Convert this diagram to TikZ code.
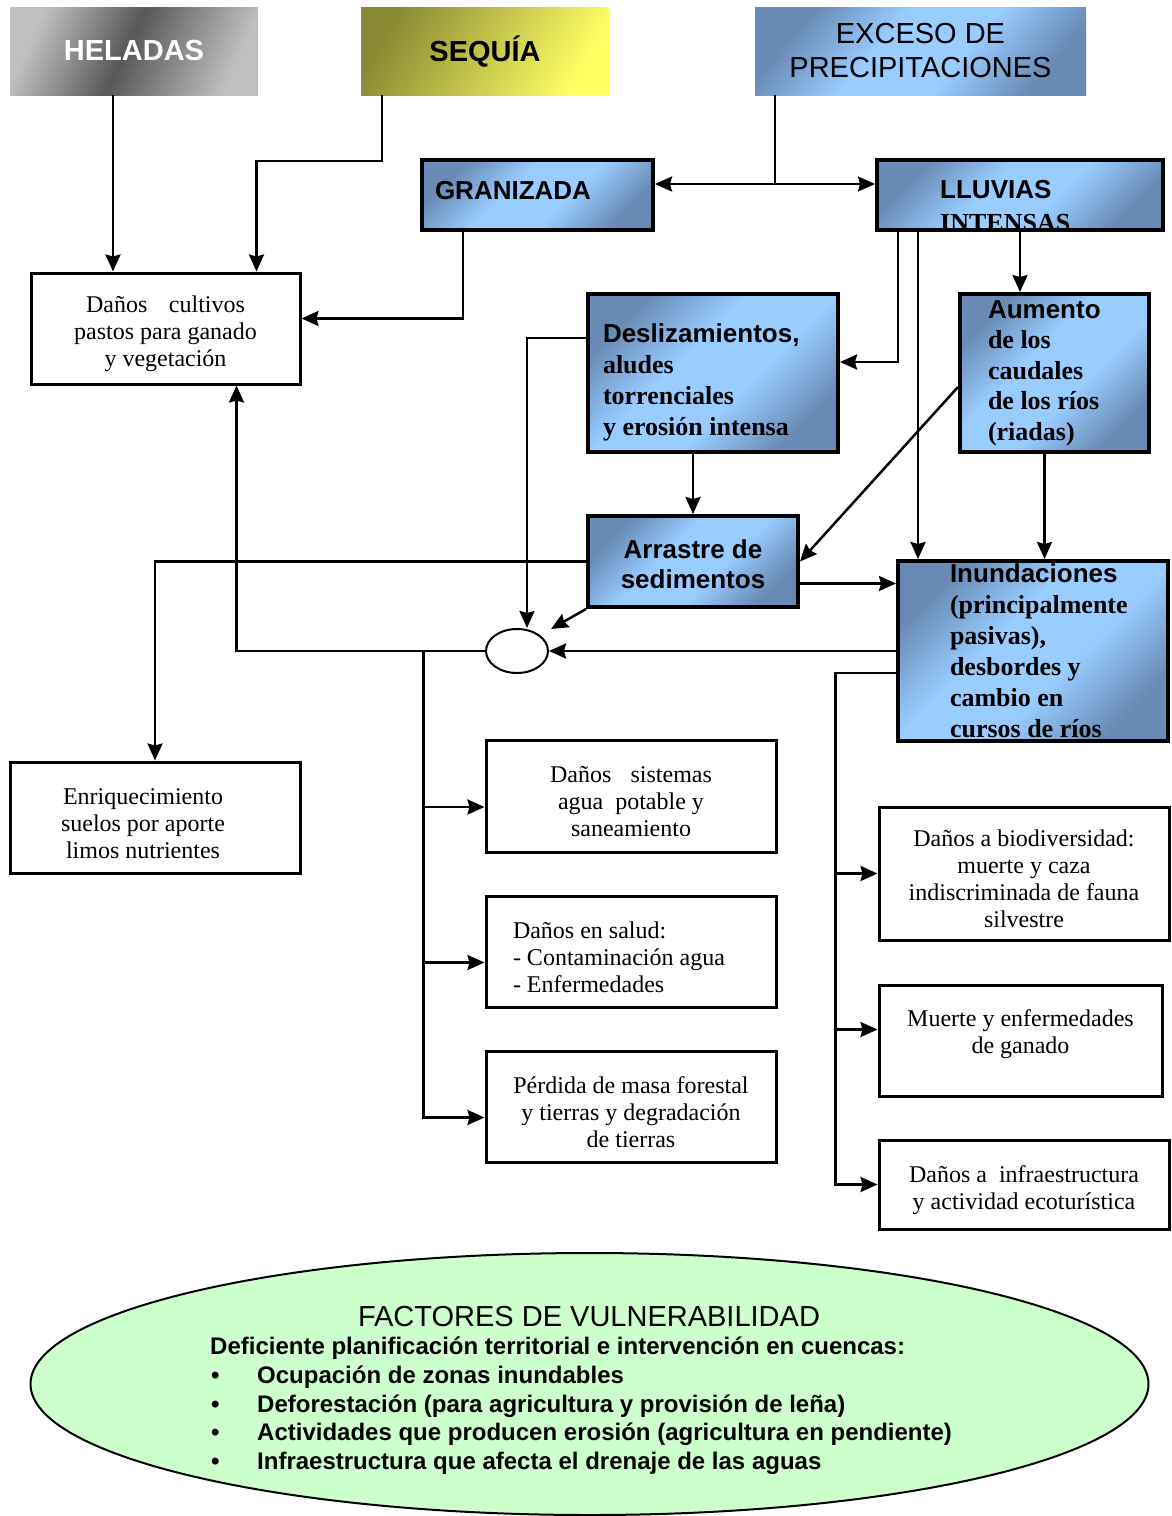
\documentclass[tikz,border=0pt]{standalone}
\usepackage{fontspec}
\setmainfont{Liberation Serif}
\setsansfont{Liberation Sans}
\usetikzlibrary{arrows.meta,calc,shapes.geometric}
\definecolor{bluedark}{RGB}{104,138,180}
\definecolor{bluelight}{RGB}{153,204,255}
\definecolor{graydark}{RGB}{88,88,88}
\definecolor{graylight}{RGB}{192,192,192}
\definecolor{oliveyel}{RGB}{138,138,52}
\definecolor{brightyel}{RGB}{255,255,100}
\definecolor{vulgreen}{RGB}{204,255,204}
\pgfdeclarehorizontalshading{bluefade}{100bp}{color(0bp)=(bluedark); color(25bp)=(bluedark);
  color(42bp)=(bluelight); color(58bp)=(bluelight); color(75bp)=(bluedark); color(100bp)=(bluedark)}
\pgfdeclarehorizontalshading{grayfade}{100bp}{color(0bp)=(graylight); color(25bp)=(graylight);
  color(48bp)=(graydark); color(75bp)=(graylight); color(100bp)=(graylight)}
\pgfdeclarehorizontalshading{yellowfade}{100bp}{color(0bp)=(oliveyel); color(25bp)=(oliveyel);
  color(75bp)=(brightyel); color(100bp)=(brightyel)}
\tikzset{
  hazard/.style  = {shade, minimum width=248pt, minimum height=88pt, inner sep=0pt,
                    align=center, font=\fontsize{29}{34}\selectfont\sffamily\bfseries},
  bluebox/.style = {draw=black, line width=4pt, shade, shading=bluefade, shading angle=-45,
                    align=flush left, font=\fontsize{26}{31}\selectfont\rmfamily\bfseries},
  impact/.style  = {draw=black, line width=3pt, fill=white, inner sep=0pt, text width=250pt,
                    align=flush center, font=\fontsize{24}{27}\selectfont\rmfamily,
                    execute at begin node={\rule{0pt}{28pt}}},
  flow/.style    = {-{Stealth[length=17pt,width=15pt,inset=2pt]}, line width=2.5pt},
  wire/.style    = {line width=2.5pt},
}
\newcommand{\vbullet}{\makebox[47pt][l]{\hspace{1pt}\textbullet}}

\begin{document}
\begin{tikzpicture}[x=1pt, y=-1pt]
\useasboundingbox (0,0) rectangle (1172,1516);

% hazards
\node[hazard, shading=grayfade, shading angle=-25, text=white] (heladas) at (134,51) {HELADAS};
\node[hazard, shading=yellowfade, shading angle=-30] (sequia) at (485,51) {SEQUÍA};
\node[hazard, shading=bluefade, shading angle=-40, minimum width=331pt,
      font=\fontsize{29}{34}\selectfont\sffamily] (exceso) at (920.5,51) {EXCESO DE\\PRECIPITACIONES};

% triggered processes
\node[bluebox, minimum width=231pt, minimum height=70pt, text width=205pt, inner xsep=13pt,
      font=\fontsize{26}{31}\selectfont\sffamily\bfseries] (granizada) at (537.5,195)
  {GRANIZADA\rule[-9pt]{0pt}{0pt}};
\node[bluebox, minimum width=286pt, minimum height=70pt] (lluvias) at (1020,195) {};
\begin{scope}
  \clip ($(lluvias.north west)+(2,2)$) rectangle ($(lluvias.south east)+(-2,-2)$);
  \node[anchor=north west, align=left, inner sep=0pt,
        font=\fontsize{26}{33}\selectfont\rmfamily\bfseries] (lluvias-t) at (940,180.5)
    {{\sffamily LLUVIAS}\\INTENSAS};
\end{scope}
\node[bluebox, text width=220pt, inner xsep=15pt, minimum height=158pt] (desl) at (713,373)
  {\rule{0pt}{37pt}{\sffamily Deslizamientos,}\\aludes\\torrenciales\\y erosión intensa};
\node[bluebox, text width=133pt, inner xsep=28pt, minimum height=158pt,
      font=\fontsize{26}{30.5}\selectfont\rmfamily\bfseries] (aumento) at (1054.5,373)
  {{\sffamily Aumento}\\de los\\caudales\\de los ríos\\(riadas)};
\node[bluebox, text width=180pt, inner xsep=15pt, minimum height=91pt, align=flush center,
      font=\fontsize{26}{30}\selectfont\sffamily\bfseries] (arrastre) at (693,561.5)
  {\rule{0pt}{25pt}Arrastre de\\sedimentos};
\node[bluebox, text width=166pt, inner xsep=52pt, inner ysep=0pt, minimum height=180pt] (inund) at (1033,651)
  {{\sffamily Inundaciones}\\(principalmente\\pasivas),\\desbordes y\\cambio en\\cursos de ríos};
\node[draw, ellipse, line width=2pt, minimum width=62pt, minimum height=44pt, inner sep=0pt] (nodo) at (517,651) {};

% impacts
\node[impact, minimum width=269pt, minimum height=111pt] (cultivos) at (165.5,328.5)
  {Daños\hspace{0.9em}cultivos\\pastos para ganado\\y vegetación};
\node[impact, minimum width=290pt, minimum height=111pt] (enriq) at (155,817.5)
  {Enriquecimiento\kern24pt\\suelos por aporte\kern24pt\\limos nutrientes\kern24pt};
\node[impact, minimum width=290pt, minimum height=112pt] (sistemas) at (631,796)
  {Daños\hspace{0.8em}sistemas\\agua\ \ potable y\\saneamiento};
\node[impact, minimum width=290pt, minimum height=111pt, text width=236pt, inner xsep=27pt,
      align=flush left] (salud) at (631,951.5)
  {Daños en salud:\\- Contaminación agua\\- Enfermedades};
\node[impact, minimum width=290pt, minimum height=111pt] (perdida) at (631,1106.5)
  {Pérdida de masa forestal\\y tierras y degradación\\de tierras};
\node[impact, minimum width=290pt, minimum height=133pt] (biodiv) at (1024,873.5)
  {Daños a biodiversidad:\\muerte y caza\\indiscriminada de fauna\\silvestre};
\node[impact, minimum width=283pt, minimum height=111pt] (muerte) at (1020.5,1040.5)
  {Muerte y enfermedades\\de ganado\rule[-30pt]{0pt}{0pt}};
\node[impact, minimum width=290pt, minimum height=89pt] (infra) at (1024,1184.5)
  {Daños a\ \ infraestructura\\y actividad ecoturística};

% vulnerability
\node[draw, ellipse, line width=2pt, fill=vulgreen, minimum width=1118pt, minimum height=262pt,
      inner sep=0pt] (vuln) at (589.5,1384) {};
\node[inner sep=0pt, font=\fontsize{29}{33}\selectfont\sffamily] (vtitle) at (589,1316)
  {FACTORES DE VULNERABILIDAD};
\node[anchor=north west, align=left, inner sep=0pt,
      font=\fontsize{24}{28.7}\selectfont\sffamily\bfseries] (vlist) at (210,1337)
  {Deficiente planificación territorial e intervención en cuencas:\\
   \vbullet Ocupación de zonas inundables\\
   \vbullet Deforestación (para agricultura y provisión de leña)\\
   \vbullet Actividades que producen erosión (agricultura en pendiente)\\
   \vbullet Infraestructura que afecta el drenaje de las aguas};

% hazards to crops
\coordinate (h1) at ($(heladas.south)+(-21,0)$);
\draw[flow] (h1) -- (h1 |- cultivos.north);
\draw[flow] ($(sequia.south west)+(21,0)$) -- ++(0,66) -| ($(cultivos.north west)+(227,0)$);
\draw[flow] ($(granizada.south west)+(43,0)$) |- ($(cultivos.east)+(0,-10)$);

% excess rain
\coordinate (e1) at ($(exceso.south west)+(20,0)$);
\coordinate (g1) at ($(granizada.east)+(0,-11)$);
\draw[wire] (e1) -- (e1 |- g1);
\draw[flow] (e1 |- g1) -- (g1);
\draw[flow] (e1 |- g1) -- (g1 -| lluvias.west);

% heavy rain
\draw[flow] ($(lluvias.south west)+(23,0)$) |- ($(desl.east)+(0,-11)$);
\draw[flow] ($(lluvias.south west)+(43,0)$) -- ($(inund.north west)+(22,0)$);
\draw[flow] (lluvias.south) -- (lluvias.south |- aumento.north);

% river flow
\draw[flow] ($(aumento.west)+(0,14)$) -- (arrastre.east);
\coordinate (a1) at ($(aumento.south)+(-10,0)$);
\draw[flow] (a1) -- (a1 |- inund.north);

% landslides and sediments
\draw[flow] (desl.south -| arrastre.north) -- (arrastre.north);
\draw[flow] ($(desl.north west)+(0,46)$) -| ($(nodo.north)+(10,0)$);
\draw[flow] (arrastre.south west) -- ($(nodo.east)+(2,-22)$);
\coordinate (r1) at ($(arrastre.east)+(0,22)$);
\draw[flow] (r1) -- (r1 -| inund.west);
\draw[flow] (arrastre.west) -| (enriq.north);

% floods
\draw[flow] (inund.west) -- (nodo.east);
\draw[flow] (nodo.west) -| ($(cultivos.south west)+(207,0)$);

% left branch
\coordinate (lb) at ($(sistemas.west)+(-61,0)$);
\draw[flow] (lb |- nodo.west) -- ($(lb |- perdida.west)+(0,11)$) -- ($(perdida.west)+(0,11)$);
\foreach \n in {sistemas,salud}
  \draw[flow] ($(lb |- \n.west)+(0,11)$) -- ($(\n.west)+(0,11)$);

% right branch
\coordinate (rb) at ($(biodiv.west)+(-42,0)$);
\draw[flow] ($(inund.west)+(0,22)$) -| (rb |- infra.west) -- (infra.west);
\foreach \n/\dy in {biodiv/0,muerte/-11}
  \draw[flow] ($(rb |- \n.west)+(0,\dy)$) -- ($(\n.west)+(0,\dy)$);

\end{tikzpicture}
\end{document}
